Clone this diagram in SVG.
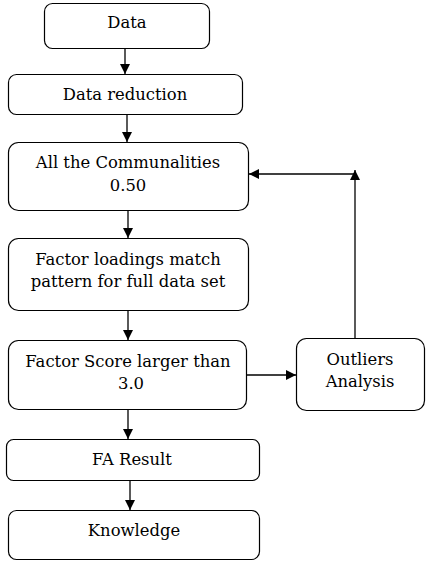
<svg xmlns="http://www.w3.org/2000/svg" width="429" height="564" viewBox="0 0 429 564">
<defs>
<marker id="ah" markerWidth="10" markerHeight="10" refX="10" refY="5" orient="auto" markerUnits="userSpaceOnUse">
<path d="M0,0 L10,5 L0,10 Z" fill="#000"/>
</marker>
<style>
.box{fill:#fff;stroke:#000;stroke-width:1.2}
.t{font-family:"DejaVu Serif","Liberation Serif",serif;font-size:16.4px;fill:#000;text-anchor:middle}
.c{stroke:#000;stroke-width:1.3;fill:none}
</style>
</defs>
<rect width="429" height="564" fill="#fff"/>
<g id="n-data"><rect class="box" x="44.5" y="3.5" width="165" height="45" rx="8"/><text class="t" x="127" y="28">Data</text></g>
<g id="n-reduction"><rect class="box" x="8.5" y="74.5" width="234" height="40" rx="8"/><text class="t" x="125" y="100">Data reduction</text></g>
<g id="n-communalities"><rect class="box" x="8.5" y="142.5" width="240" height="68" rx="10"/><text class="t" x="128" y="168">All the Communalities</text><text class="t" x="128" y="191">0.50</text></g>
<g id="n-loadings"><rect class="box" x="8.5" y="238.5" width="240" height="72" rx="10"/><text class="t" x="128" y="265">Factor loadings match</text><text class="t" x="128" y="287">pattern for full data set</text></g>
<g id="n-score"><rect class="box" x="8.5" y="340.5" width="238" height="69" rx="10"/><text class="t" x="128" y="367">Factor Score larger than</text><text class="t" x="131" y="389">3.0</text></g>
<g id="n-outliers"><rect class="box" x="296.5" y="338.5" width="128" height="72" rx="10"/><text class="t" x="360" y="365">Outliers</text><text class="t" x="360" y="387">Analysis</text></g>
<g id="n-result"><rect class="box" x="6.5" y="439.5" width="253" height="41" rx="7"/><text class="t" x="132" y="465">FA Result</text></g>
<g id="n-knowledge"><rect class="box" x="8.5" y="510.5" width="251" height="49" rx="8"/><text class="t" x="134" y="536">Knowledge</text></g>
<g id="connectors">
<line class="c" x1="125" y1="49" x2="125" y2="74" marker-end="url(#ah)"/>
<line class="c" x1="127" y1="115" x2="127" y2="142" marker-end="url(#ah)"/>
<line class="c" x1="128" y1="211" x2="128" y2="238" marker-end="url(#ah)"/>
<line class="c" x1="128" y1="311" x2="128" y2="340" marker-end="url(#ah)"/>
<line class="c" x1="128" y1="410" x2="128" y2="439" marker-end="url(#ah)"/>
<line class="c" x1="130" y1="481" x2="130" y2="510" marker-end="url(#ah)"/>
<line class="c" x1="247" y1="375" x2="296" y2="375" marker-end="url(#ah)"/>
<line class="c" x1="355" y1="338" x2="355" y2="170" marker-end="url(#ah)"/>
<line class="c" x1="355" y1="174" x2="249" y2="174" marker-end="url(#ah)"/>
</g>
</svg>
